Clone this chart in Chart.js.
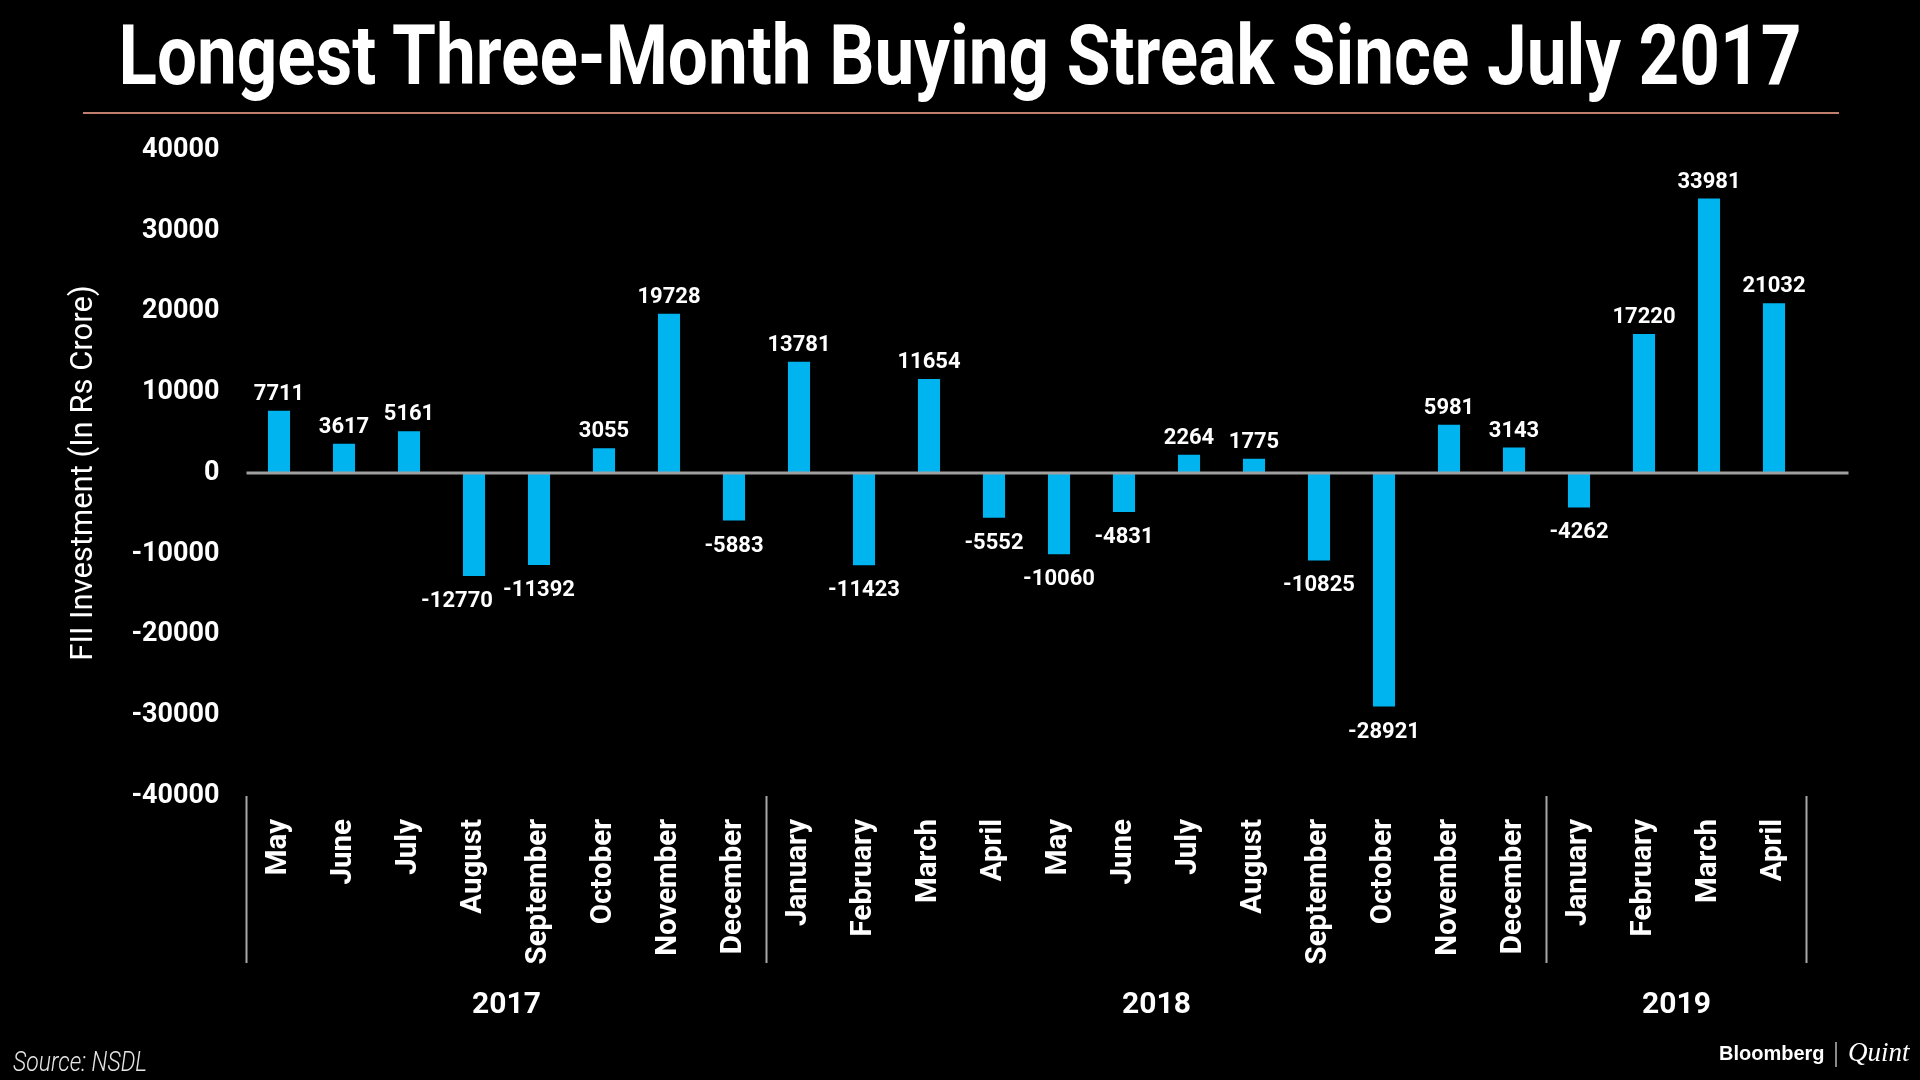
<!DOCTYPE html>
<html>
<head>
<meta charset="utf-8">
<script src="https://cdn.jsdelivr.net/npm/chart.js@4.4.1/dist/chart.umd.min.js"></script>
<style>
  html, body { margin: 0; padding: 0; background: #000; }
  body { width: 1920px; height: 1080px; position: relative; overflow: hidden; }
  #chart { position: absolute; left: 0; top: 0; }
  .txt { position: absolute; white-space: nowrap; line-height: 1; color: #fff; }
  #title { left: 960px; top: 7px; font: bold 83px Roboto; transform-origin: 50% 50%; }
  #rule { position: absolute; left: 83px; top: 112px; width: 1756px; height: 2px; background: #c07f6c; }
  #source { left: 13px; top: 1046px; font: italic 300 27px Roboto; color: #e6e6e6; transform-origin: 0 50%; }
  #bloomberg { left: 1719px; top: 1042px; font: bold 20px "Liberation Sans"; }
  #bar { position: absolute; left: 1835px; top: 1042px; width: 2px; height: 25px; background: #8a8a8a; }
  #quint { left: 1848px; top: 1037px; font: italic 27px "Liberation Serif"; }
</style>
</head>
<body>
<div id="title" class="txt">Longest Three-Month Buying Streak Since July 2017</div>
<div id="rule"></div>
<canvas id="chart" width="1920" height="1080"></canvas>
<div id="source" class="txt">Source: NSDL</div>
<div id="bloomberg" class="txt">Bloomberg</div>
<div id="bar"></div>
<div id="quint" class="txt">Quint</div>
<script>
// months from May 2017 to April 2019
const months = ['May', 'June', 'July', 'August', 'September', 'October', 'November', 'December',
  'January', 'February', 'March', 'April', 'May', 'June', 'July', 'August', 'September', 'October',
  'November', 'December', 'January', 'February', 'March', 'April'];
const fiiFlows = [7711, 3617, 5161, -12770, -11392, 3055, 19728, -5883,
  13781, -11423, 11654, -5552, -10060, -4831, 2264, 1775, -10825, -28921,
  5981, 3143, -4262, 17220, 33981, 21032];
const years = ['2017', '2018', '2019'];
const monthsPerYear = [8, 12, 4];
const yMin = -40000, yMax = 40000, yStep = 10000;

// squeeze the condensed-looking texts to their widths
function squeeze(sel, target, centred) {
  const el = document.querySelector(sel);
  const w = el.getBoundingClientRect().width;
  el.style.transform = (centred ? 'translateX(-50%) ' : '') + `scaleX(${target / w})`;
}
squeeze('#title', 1683, true);
squeeze('#source', 134, false);

Chart.defaults.font.family = 'Roboto';
Chart.defaults.color = '#fff';

// zero line + value labels
const barLabels = {
  id: 'barLabels',
  afterDatasetsDraw(chart) {
    const {ctx, chartArea, scales: {y}} = chart;
    const py = y.getPixelForValue(0);
    ctx.save();
    ctx.strokeStyle = '#a0a0a0';
    ctx.lineWidth = 3;
    ctx.beginPath();
    ctx.moveTo(chartArea.left, py);
    ctx.lineTo(chartArea.right + 42, py);
    ctx.stroke();

    ctx.fillStyle = '#fff';
    ctx.textAlign = 'center';
    ctx.textBaseline = 'alphabetic';
    ctx.font = 'bold 22px Roboto';
    chart.getDatasetMeta(0).data.forEach((bar, i) => {
      const v = fiiFlows[i];
      if (v >= 0) {
        ctx.fillText(String(v), bar.x, bar.y - 11);
      } else {
        // August 2017 label sits a bit left so it clears September's
        const dx = i === 3 ? -17 : 0;
        ctx.fillText(String(v), bar.x + dx, bar.y + 31);
      }
    });
    ctx.restore();
  }
};

// year groups under the month labels
const yearGroups = {
  id: 'yearGroups',
  afterDraw(chart) {
    const {ctx, chartArea, scales: {x}} = chart;
    const half = (x.getPixelForValue(1) - x.getPixelForValue(0)) / 2;
    const edges = [x.getPixelForValue(0) - half];
    ctx.save();
    ctx.fillStyle = '#fff';
    ctx.font = 'bold 30px Roboto';
    ctx.textAlign = 'center';
    ctx.textBaseline = 'middle';
    let start = 0;
    monthsPerYear.forEach((n, i) => {
      const left = x.getPixelForValue(start) - half;
      const right = x.getPixelForValue(start + n - 1) + half;
      edges.push(right);
      ctx.fillText(years[i], (left + right) / 2, 1005);
      start += n;
    });
    ctx.strokeStyle = '#a8a8a8';
    ctx.lineWidth = 2;
    edges.forEach(ex => {
      ctx.beginPath();
      ctx.moveTo(ex, chartArea.bottom);
      ctx.lineTo(ex, chartArea.bottom + 167);
      ctx.stroke();
    });
    ctx.restore();
  }
};

new Chart(document.getElementById('chart'), {
  type: 'bar',
  data: {
    labels: months,
    datasets: [{
      data: fiiFlows,
      backgroundColor: '#00b4ef',
      categoryPercentage: 1,
      barPercentage: 0.34
    }]
  },
  options: {
    responsive: false,
    animation: false,
    devicePixelRatio: 1,
    layout: { padding: { top: 150, right: 113.5, bottom: 0, left: 0 } },
    plugins: { legend: { display: false }, tooltip: { enabled: false } },
    scales: {
      x: {
        grid: { display: false, drawTicks: false },
        border: { display: false },
        ticks: {
          autoSkip: false, maxRotation: 90, minRotation: 90, padding: 23,
          color: '#fff', font: { size: 29.5, weight: 'bold' }
        },
        afterFit(scale) { scale.height = 284; }
      },
      y: {
        min: yMin, max: yMax,
        grid: { display: false, drawTicks: false },
        border: { display: false },
        ticks: {
          stepSize: yStep, padding: 27, color: '#fff',
          font: { size: 27, weight: 'bold' },
          callback: v => String(v)
        },
        title: {
          display: true, text: 'FII Investment (In Rs Crore)', color: '#fff',
          font: { size: 31 }, padding: { top: 66, bottom: 0 }
        },
        afterFit(scale) { scale.width = 246.5; }
      }
    }
  },
  plugins: [barLabels, yearGroups]
});
</script>
</body>
</html>
